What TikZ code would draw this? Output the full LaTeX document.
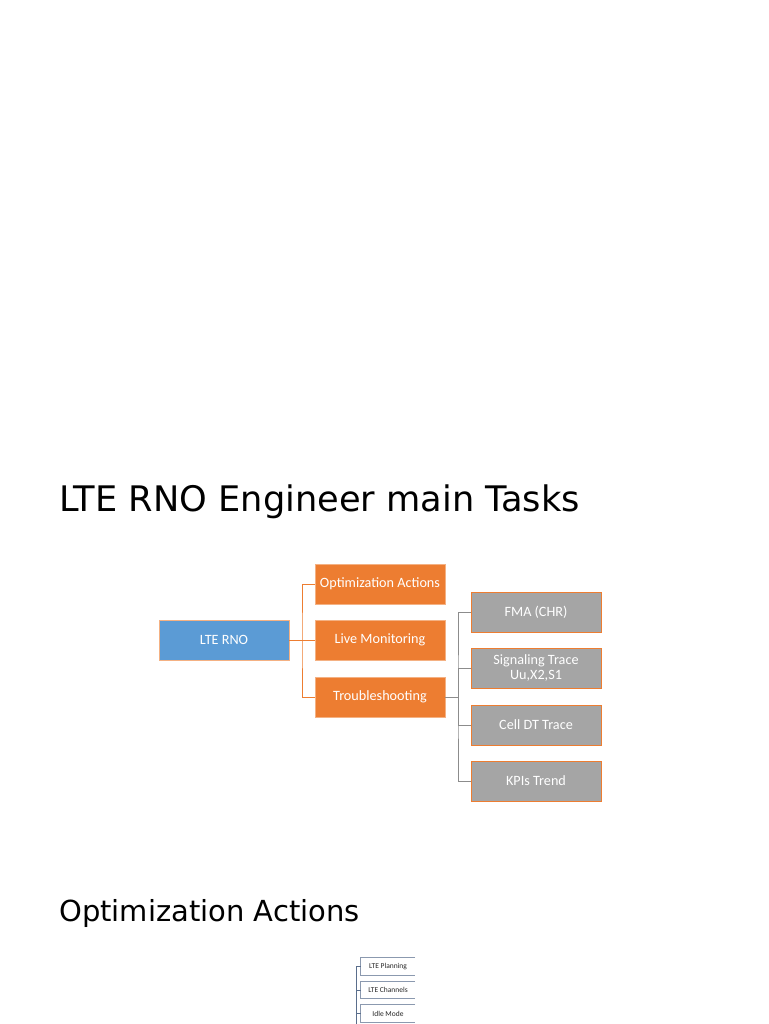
\documentclass[tikz,border=0pt]{standalone}
\usepackage{fontspec}
\setmainfont{DejaVu Sans}
\newfontfamily\boxfont{Carlito}
\definecolor{obox}{HTML}{ED7D31}
\definecolor{oedge}{HTML}{F4B183}
\definecolor{bbox}{HTML}{5B9BD5}
\definecolor{gbox}{HTML}{A5A5A5}
\definecolor{gline}{HTML}{8C8C8C}
\definecolor{sline}{HTML}{5A6E8C}
\begin{document}
\begin{tikzpicture}[x=1pt,y=-1pt,
  base/.style={minimum width=130pt,minimum height=40pt,inner sep=0pt,text=white,font=\boxfont\fontsize{14.2}{15.5}\selectfont,align=center,line width=0.8pt},
  bluebox/.style={base,fill=bbox,draw=oedge},
  orangebox/.style={base,fill=obox,draw=oedge},
  graybox/.style={base,fill=gbox,draw=obox},
  smallbox/.style={minimum width=54pt,minimum height=17pt,inner sep=0pt,font=\boxfont\fontsize{7.5}{8}\selectfont,text=black!85},
  oconn/.style={draw=obox,line width=0.8pt},
  gconn/.style={draw=gline,line width=0.8pt},
  sconn/.style={draw=sline,line width=0.8pt}]
\useasboundingbox[fill=white] (0,0) rectangle (768,1024);
\node[anchor=base west,inner xsep=0pt,font=\fontsize{35.2}{40}\selectfont] (title) at (59,511) {LTE RNO Engineer main Tasks};
\node[anchor=base west,inner xsep=0pt,font=\fontsize{29}{32}\selectfont] (title2) at (59,921) {Optimization Actions};
\node[bluebox] (rno) at (224,640) {LTE RNO};
\node[orangebox] (opt) at (380,584) {Optimization Actions};
\node[orangebox] (live) at (380,640) {Live Monitoring};
\node[orangebox] (trb) at (380,697) {Troubleshooting};
\node[graybox] (fma) at (536,612) {FMA (CHR)};
\node[graybox] (sig) at (536,668) {Signaling Trace\\[-1pt]Uu,X2,S1};
\node[graybox] (cdt) at (536,725) {Cell DT Trace};
\node[graybox] (kpi) at (536,781) {KPIs Trend};
\coordinate (ob) at (302,640);
\draw[oconn] (rno.east) -- (ob);
\draw[oconn] (opt.west) -| (ob) |- (trb.west);
\draw[oconn] (ob) -- (live.west);
\coordinate (gb) at (458,697);
\draw[gconn] (trb.east) -- (gb);
\draw[gconn] (fma.west) -| (gb) |- (kpi.west);
\draw[gconn] (sig.west) -| (gb);
\draw[gconn] (cdt.west) -| (gb);
\node[smallbox] (plan) at (388,966.5) {LTE Planning};
\node[smallbox] (chan) at (388,990) {LTE Channels};
\node[smallbox] (idle) at (388,1013.5) {Idle Mode};
\foreach \n in {plan,chan,idle}
  \draw[sconn,draw=sline!70] (\n.north east) -- (\n.north west) -- (\n.south west) -- (\n.south east);
\coordinate (sb) at (356,1024);
\coordinate (st) at (356,966.5);
\draw[sconn] (plan.west) -- (st) -- (sb);
\draw[sconn] (chan.west) -- (chan.west -| sb);
\draw[sconn] (idle.west) -- (idle.west -| sb);
\end{tikzpicture}
\end{document}
